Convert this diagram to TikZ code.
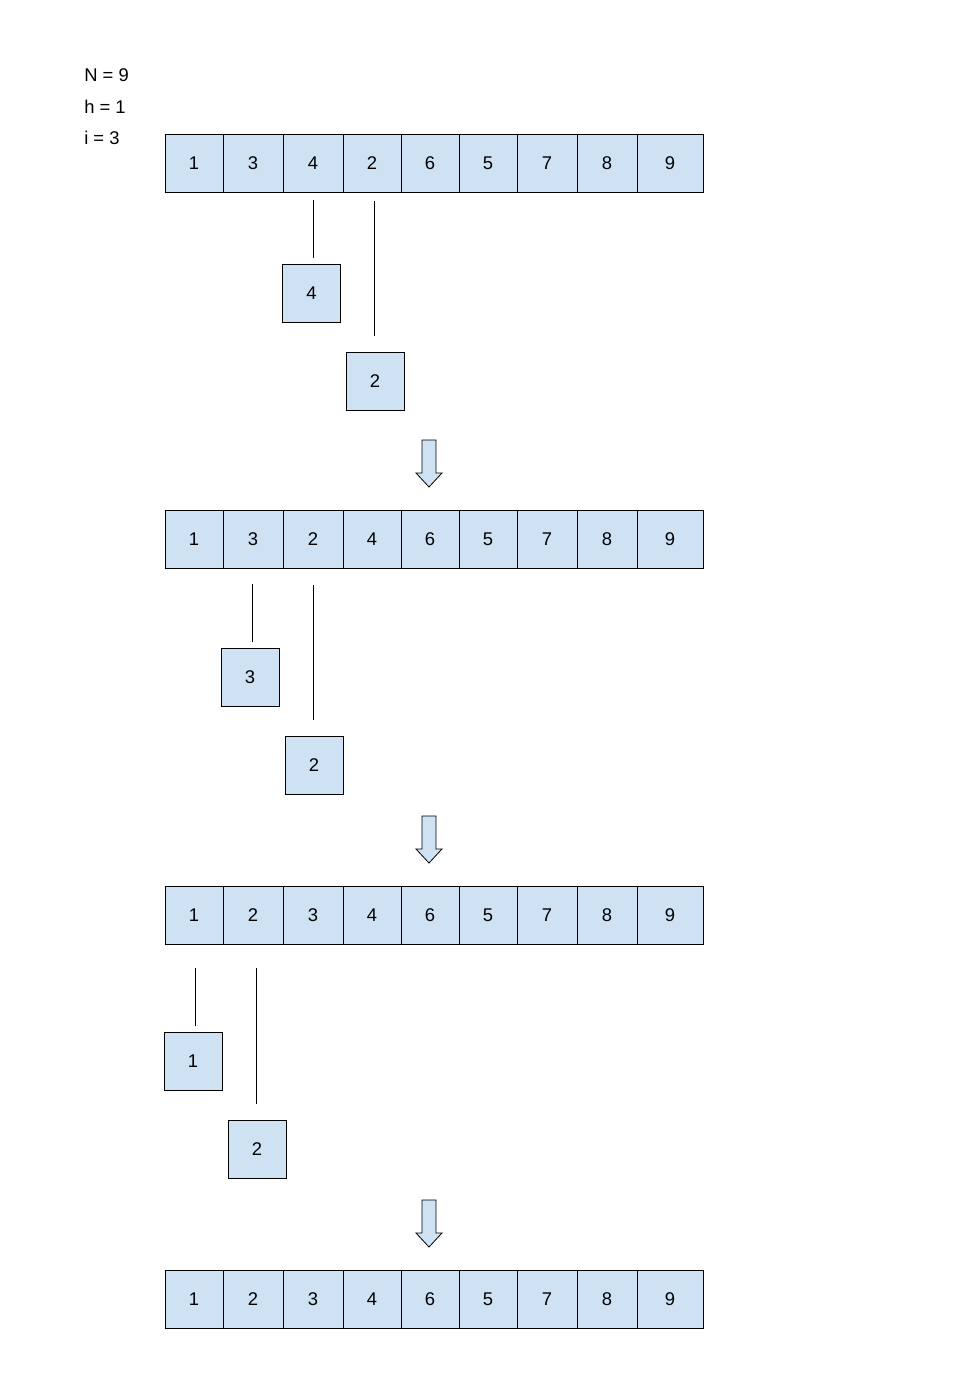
\documentclass[tikz,border=0pt]{standalone}
\usepackage{fontspec}
\setmainfont{Liberation Sans}
\definecolor{cellblue}{HTML}{CFE2F3}
\begin{document}
\begin{tikzpicture}[x=0.75pt,y=-0.75pt,
  cell/.style={draw=black,fill=cellblue,line width=0.75pt,inner sep=0pt,minimum height=43.5pt,font=\fontsize{13.8}{16}\selectfont},
  small/.style={cell,minimum width=43.5pt},
  lbl/.style={anchor=base west,inner sep=0pt,font=\fontsize{13.8}{16}\selectfont},
  link/.style={line width=0.75pt,draw=black},
  blockarrow/.style={draw=black,fill=cellblue,line width=0.6pt,line join=miter}]
\useasboundingbox (0,0) rectangle (960,1378);
\node[lbl] (tN) at (84,81) {N = 9};
\node[lbl] (th) at (84,113) {h = 1};
\node[lbl] (ti) at (84,144) {i = 3};
% rows
\foreach \r/\yc/\vals in {1/163/{1,3,4,2,6,5,7,8,9},2/539/{1,3,2,4,6,5,7,8,9},3/915/{1,2,3,4,6,5,7,8,9},4/1299/{1,2,3,4,6,5,7,8,9}}{
  \foreach \xa/\xb [count=\i] in {165/223,223/283,283/343,343/401,401/459,459/517,517/577,577/637,637/703}{
    \pgfmathsetmacro\v{{\vals}[\i-1]}
    \node[cell,minimum width={(\xb-\xa)*0.75pt}] (r\r c\i) at ({(\xa+\xb)/2},\yc) {\pgfmathparse{int(\v)}\pgfmathresult};
  }
}
% row 1 detail
\node[small] (a1) at (311.5,293.5) {4};
\node[small] (a2) at (375,381) {2};
\coordinate (a1t) at (313,200);
\coordinate (a2t) at (374,201);
\draw[link,shorten >=4.5pt] (a1t) -- (a1t |- a1.north);
\draw[link,shorten >=12pt] (a2t) -- (a2t |- a2.north);
% row 2 detail
\node[small] (b1) at (250,677) {3};
\node[small] (b2) at (314,765) {2};
\coordinate (b1t) at (252,584);
\coordinate (b2t) at (313,585);
\draw[link,shorten >=4.5pt] (b1t) -- (b1t |- b1.north);
\draw[link,shorten >=12pt] (b2t) -- (b2t |- b2.north);
% row 3 detail
\node[small] (c1) at (193,1061) {1};
\node[small] (c2) at (257,1149) {2};
\coordinate (c1t) at (195,968);
\coordinate (c2t) at (256,968);
\draw[link,shorten >=4.5pt] (c1t) -- (c1t |- c1.north);
\draw[link,shorten >=12pt] (c2t) -- (c2t |- c2.north);
% block arrows
\foreach \yt in {440,816,1200}{
  \draw[blockarrow] (422,\yt) -- (436,\yt) -- (436,\yt+33) -- (442,\yt+33) -- (429,\yt+47) -- (416,\yt+33) -- (422,\yt+33) -- cycle;
}
\end{tikzpicture}
\end{document}
